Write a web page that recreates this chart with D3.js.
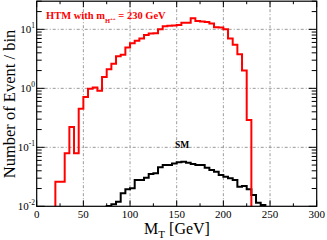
<!DOCTYPE html>
<html><head><meta charset="utf-8">
<script src="https://cdn.jsdelivr.net/npm/d3@7"></script>
<style>body{margin:0;background:#fff}svg{display:block}</style>
</head><body>
<script>
// ---- data ----
const binWidth = 5;
const htmLow = [20,25,30,35,40,45,50,55,60,65,70,75,80,85,90,95,100,105,110,115,120,125,130,135,140,145,150,155,160,165,170,175,180,185,190,195,200,205,210,215,220,225];
const htmValues = [0.026,0.026,0.079,0.22,0.079,0.45,0.71,0.98,1.03,0.91,1.55,2.1,2.6,3.5,3.7,4.9,5.8,6.4,7.0,8.0,8.5,8.6,10.0,11.3,11.5,11.6,11.8,12.9,12.9,15.4,13.8,13.6,13.3,12.6,10.8,10.7,10.0,7.0,5.5,3.8,2.0,0.29];
const smLow = [75,80,85,90,95,100,105,110,115,120,125,130,135,140,145,150,155,160,165,170,175,180,185,190,195,200,205,210,215,220,225,230,235,240];
const smValues = [0.0101,0.0108,0.012,0.0166,0.0194,0.0202,0.028,0.028,0.0306,0.0352,0.0363,0.046,0.050,0.050,0.053,0.0557,0.057,0.0548,0.052,0.050,0.050,0.0449,0.0413,0.0387,0.0339,0.0318,0.0298,0.028,0.0215,0.022,0.0194,0.0155,0.0115,0.0105];
const xTicks = [0,50,100,150,200,250,300];
const xMinor = [25,75,125,175,225,275];
const yTicks = [0.01,0.1,1,10];
const yExp = ["-2","-1","0","1"];
const yMinor = [0.02,0.03,0.04,0.05,0.06,0.07,0.08,0.09,0.2,0.3,0.4,0.5,0.6,0.7,0.8,0.9,2,3,4,5,6,7,8,9,20,30];

// ---- layout ----
const W = 327, H = 240;
const L = 36.7, R = 316.7, T = 1.2, B = 206.3;
const svg = d3.select("body").append("svg").attr("width", W).attr("height", H);
const x = d3.scaleLinear().domain([0, 300]).range([L, R]);
const y = d3.scaleLog().domain([0.01, 30]).range([B, T]);
const serif = "'Liberation Serif','DejaVu Serif',serif";

svg.append("defs").append("clipPath").attr("id","clip")
  .append("rect").attr("x", L).attr("y", T).attr("width", R-L).attr("height", B-T);

// grid
const grid = svg.append("g").attr("stroke", "#999").attr("stroke-width", 1).attr("stroke-dasharray", "3,2,1,2");
grid.selectAll("line.gx").data(xTicks.filter(d => d > 0 && d < 300)).join("line")
  .attr("x1", d => x(d)).attr("x2", d => x(d)).attr("y1", T).attr("y2", B);
grid.selectAll("line.gy").data(yTicks.filter(d => d > 0.01)).join("line")
  .attr("x1", L).attr("x2", R).attr("y1", d => y(d)).attr("y2", d => y(d));

// histograms
function stepPoints(lows, vals) {
  const pts = [[lows[0], 0.001]];
  lows.forEach((l, i) => { pts.push([l, vals[i]]); pts.push([l + binWidth, vals[i]]); });
  pts.push([lows[lows.length-1] + binWidth, 0.001]);
  return pts;
}
const line = d3.line().x(d => x(d[0])).y(d => y(d[1]));
const plot = svg.append("g").attr("clip-path", "url(#clip)");
plot.append("path").attr("d", line(stepPoints(smLow, smValues)))
  .attr("fill", "none").attr("stroke", "#000").attr("stroke-width", 2).attr("stroke-linejoin", "miter");
plot.append("path").attr("d", line(stepPoints(htmLow, htmValues)))
  .attr("fill", "none").attr("stroke", "#ff0000").attr("stroke-width", 2).attr("stroke-linejoin", "miter");

// ticks (inside, all four sides)
const tk = svg.append("g").attr("stroke", "#000").attr("stroke-width", 1);
xTicks.forEach(d => {
  tk.append("line").attr("x1", x(d)).attr("x2", x(d)).attr("y1", B).attr("y2", B-6);
  tk.append("line").attr("x1", x(d)).attr("x2", x(d)).attr("y1", T).attr("y2", T+6);
});
xMinor.forEach(d => {
  tk.append("line").attr("x1", x(d)).attr("x2", x(d)).attr("y1", B).attr("y2", B-3);
  tk.append("line").attr("x1", x(d)).attr("x2", x(d)).attr("y1", T).attr("y2", T+3);
});
yTicks.forEach(d => {
  tk.append("line").attr("x1", L).attr("x2", L+8).attr("y1", y(d)).attr("y2", y(d));
  tk.append("line").attr("x1", R).attr("x2", R-8).attr("y1", y(d)).attr("y2", y(d));
});
yMinor.forEach(d => {
  tk.append("line").attr("x1", L).attr("x2", L+5).attr("y1", y(d)).attr("y2", y(d));
  tk.append("line").attr("x1", R).attr("x2", R-5).attr("y1", y(d)).attr("y2", y(d));
});

// frame
svg.append("rect").attr("x", L).attr("y", T).attr("width", R-L).attr("height", B-T)
  .attr("fill", "none").attr("stroke", "#000").attr("stroke-width", 1.2);

// x tick labels
svg.append("g").selectAll("text").data(xTicks).join("text")
  .attr("x", d => x(d)).attr("y", 217.5).attr("text-anchor", "middle")
  .attr("font-family", serif).attr("font-size", 11).attr("fill", "#000").text(d => d);

// y tick labels
const yl = svg.append("g").selectAll("text").data(yTicks).join("text")
  .attr("x", 35).attr("y", d => y(d) + 4).attr("text-anchor", "end")
  .attr("font-family", serif).attr("font-size", 11).attr("fill", "#000");
yl.append("tspan").text("10");
yl.append("tspan").attr("font-size", 7.5).attr("dy", -5).text((d, i) => yExp[i]);

// axis titles
const xt = svg.append("text").attr("x", 177).attr("y", 234).attr("text-anchor", "middle")
  .attr("font-family", serif).attr("font-size", 16).attr("fill", "#000");
xt.append("tspan").text("M");
xt.append("tspan").attr("font-size", 11).attr("dy", 4).text("T");
xt.append("tspan").attr("dy", -4).text(" [GeV]");

svg.append("text").attr("transform", "translate(14.5,104) rotate(-90)").attr("text-anchor", "middle")
  .attr("font-family", serif).attr("font-size", 16.5).attr("fill", "#000").text("Number of Event / bin");

// legend labels
const lg = svg.append("text").attr("x", 46).attr("y", 19).attr("font-family", serif)
  .attr("font-size", 10.5).attr("font-weight", "bold").attr("fill", "#ff0000");
lg.append("tspan").text("HTM with m");
lg.append("tspan").attr("font-size", 6.5).attr("dy", 4).text("H");
lg.append("tspan").attr("font-size", 5).attr("dy", -3).text("++");
lg.append("tspan").attr("dy", -1).text(" = 230 GeV");

svg.append("text").attr("x", 175).attr("y", 148.3).attr("font-family", serif)
  .attr("font-size", 9.5).attr("font-weight", "bold").attr("fill", "#000").text("SM");
</script>
</body></html>
